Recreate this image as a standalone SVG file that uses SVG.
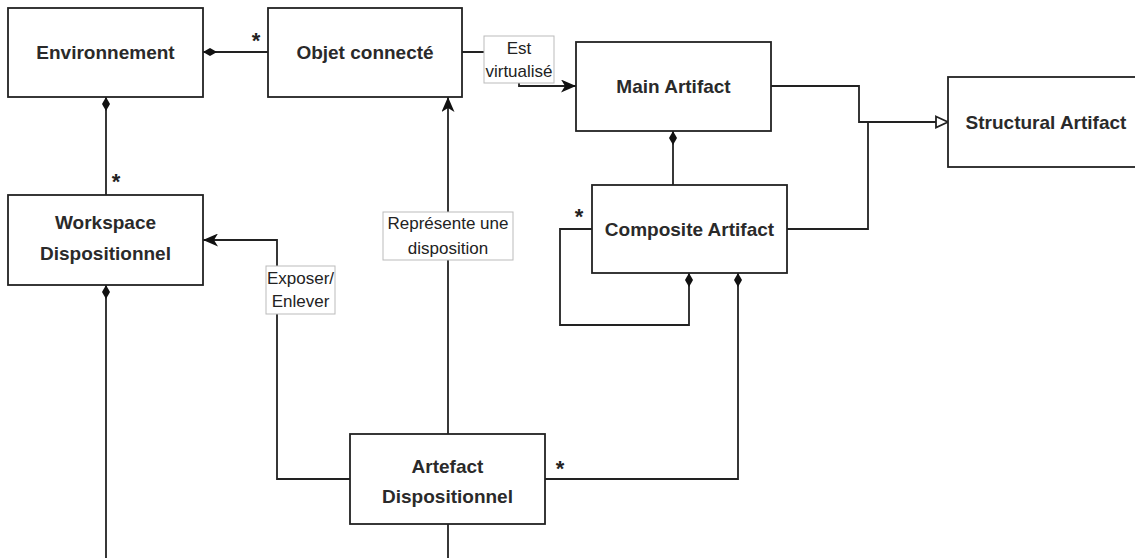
<svg xmlns="http://www.w3.org/2000/svg" width="1135" height="558" viewBox="0 0 1135 558">
<style>
.box{fill:#fff;stroke:#222;stroke-width:1.8}
.t{font-family:"Liberation Sans",Arial,sans-serif;font-size:19px;font-weight:bold;fill:#2a2a2a;text-anchor:middle}
.lb{fill:#fff;stroke:#bbb;stroke-width:1}
.lt{font-family:"Liberation Sans",Arial,sans-serif;font-size:17px;fill:#222;text-anchor:middle}
.e{fill:none;stroke:#222;stroke-width:1.8}
.st{font-family:"Liberation Sans",Arial,sans-serif;font-size:22px;font-weight:bold;fill:#222;text-anchor:middle}
.d{fill:#111}
</style>
<defs>
<marker id="arr" markerUnits="userSpaceOnUse" viewBox="0 0 15 13" refX="15" refY="6.5" markerWidth="15" markerHeight="13" orient="auto"><path d="M0,0 L15,6.5 L0,13 L4,6.5 Z" fill="#111"/></marker>
<marker id="tri" markerUnits="userSpaceOnUse" viewBox="0 0 14 14" refX="13" refY="7" markerWidth="14" markerHeight="14" orient="auto"><path d="M1,1.5 L13,7 L1,12.5 Z" fill="#fff" stroke="#222" stroke-width="1.8"/></marker>
</defs>
<rect width="1135" height="558" fill="#fff"/>
<g id="connectors">
<path class="e" d="M203,52 H268"/>
<path class="e" d="M106,97 V195"/>
<path class="e" d="M462,52 H519 V86 H576" marker-end="url(#arr)"/>
<path class="e" d="M771,86 H859 V122 H948" marker-end="url(#tri)"/>
<path class="e" d="M787,229 H868 V122"/>
<path class="e" d="M673,131 V185"/>
<path class="e" d="M592,229 H560 V325 H689 V273"/>
<path class="e" d="M545,479 H738 V273"/>
<path class="e" d="M448,434 V97" marker-end="url(#arr)"/>
<path class="e" d="M350,479 H277 V240 H203" marker-end="url(#arr)"/>
<path class="e" d="M106,285 V558"/>
<path class="e" d="M448,524 V558"/>
<path class="d" d="M203,52 L210,48 L217,52 L210,56 Z"/>
<path class="d" d="M106,97 L110,104 L106,111 L102,104 Z"/>
<path class="d" d="M106,285 L110,292 L106,299 L102,292 Z"/>
<path class="d" d="M673,131 L677,138 L673,145 L669,138 Z"/>
<path class="d" d="M689,273 L693,280 L689,287 L685,280 Z"/>
<path class="d" d="M738,273 L742,280 L738,287 L734,280 Z"/>
<rect class="lb" x="484" y="36" width="70" height="47"/>
<text class="lt" x="519" y="54">Est</text>
<text class="lt" x="519" y="77">virtualisé</text>
<rect class="lb" x="383" y="212" width="130" height="48"/>
<text class="lt" x="448" y="229">Représente une</text>
<text class="lt" x="448" y="254">disposition</text>
<rect class="lb" x="266" y="266" width="69" height="48"/>
<text class="lt" x="300.5" y="284">Exposer/</text>
<text class="lt" x="300.5" y="307">Enlever</text>
<text class="st" x="256" y="48">*</text>
<text class="st" x="116" y="189">*</text>
<text class="st" x="579" y="224">*</text>
<text class="st" x="560" y="476">*</text>
</g>
<g id="environnement"><rect class="box" x="8" y="8" width="195" height="89"/><text class="t" x="105.5" y="59">Environnement</text></g>
<g id="objet"><rect class="box" x="268" y="8" width="194" height="89"/><text class="t" x="365" y="59">Objet connecté</text></g>
<g id="main"><rect class="box" x="576" y="42" width="195" height="89"/><text class="t" x="673.5" y="93">Main Artifact</text></g>
<g id="structural"><rect class="box" x="948" y="77" width="195" height="90"/><text class="t" x="1046" y="129">Structural Artifact</text></g>
<g id="composite"><rect class="box" x="592" y="185" width="195" height="88"/><text class="t" x="689.5" y="236">Composite Artifact</text></g>
<g id="workspace"><rect class="box" x="8" y="195" width="195" height="90"/><text class="t" x="105.5" y="229">Workspace</text><text class="t" x="105.5" y="260">Dispositionnel</text></g>
<g id="artefact"><rect class="box" x="350" y="434" width="195" height="90"/><text class="t" x="447.5" y="473">Artefact</text><text class="t" x="447.5" y="503">Dispositionnel</text></g>
</svg>
